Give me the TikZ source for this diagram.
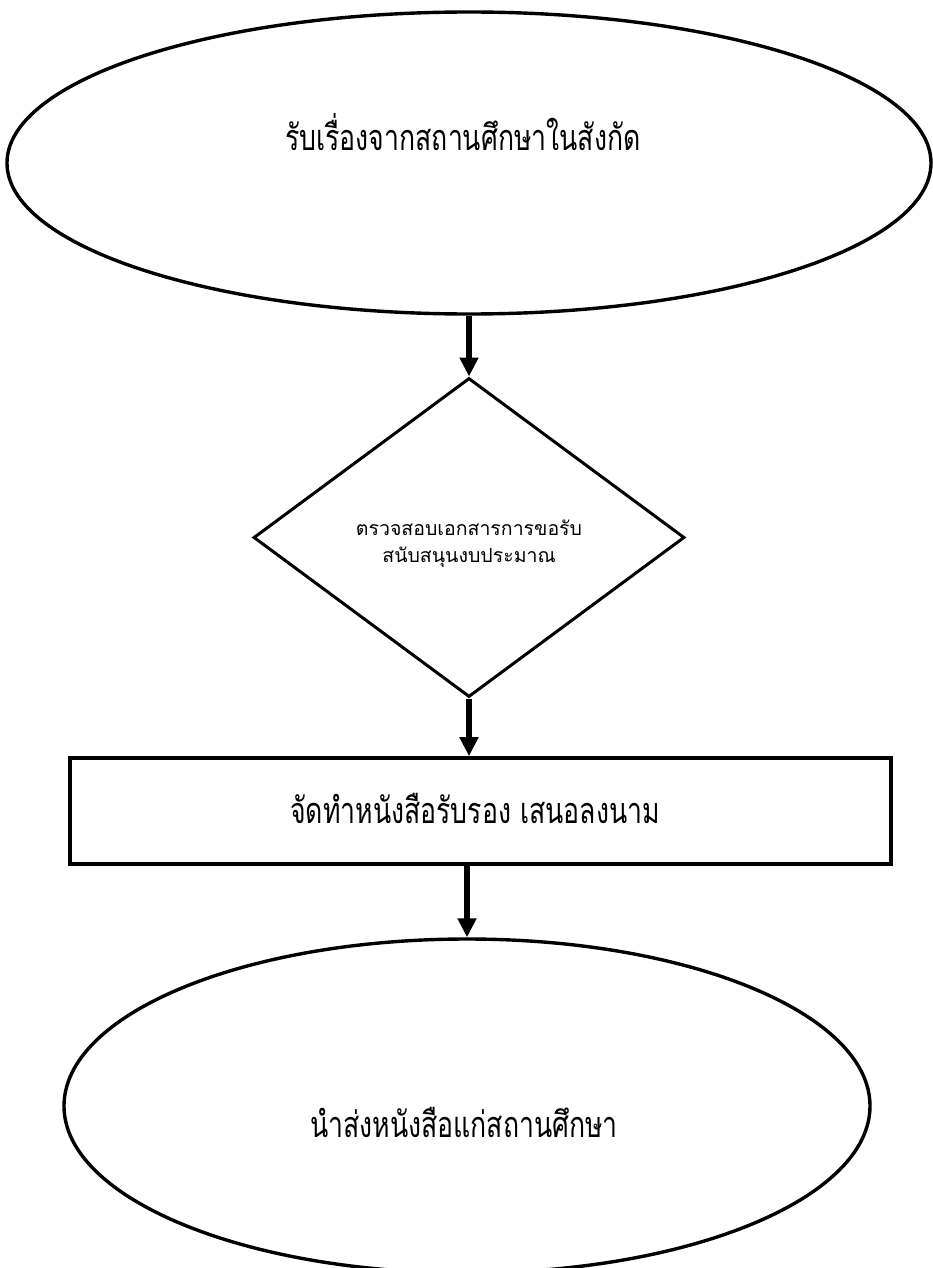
\documentclass[tikz,border=0pt]{standalone}
\usepackage{fontspec}
\usetikzlibrary{shapes.geometric,arrows.meta}
\newfontfamily\thainarrow[Script=Thai,FakeStretch=0.74]{Loma}
\newfontfamily\thaifont[Script=Thai]{Loma}
\tikzset{
  shapeline/.style={draw=black,line width=3.4pt,inner sep=0pt},
  flowarrow/.style={line width=5.5pt,-{Triangle[length=19pt,width=18pt]}},
  bigtext/.style={font=\thainarrow\fontsize{36}{40}\selectfont,inner sep=0pt},
  smalltext/.style={font=\thaifont\fontsize{19.5}{27}\selectfont,inner sep=0pt,align=center}
}
\begin{document}
\begin{tikzpicture}[x=1pt,y=-1pt]
\useasboundingbox (0,0) rectangle (932,1268);
\fill[white] (0,0) rectangle (932,1268);
\node[shapeline,ellipse,minimum width=924pt,minimum height=302pt] (e1) at (469,163) {};
\node[bigtext] (t1) at (463,132) {รับเรื่องจากสถานศึกษาในสังกัด};
\node[shapeline,diamond,line width=3pt,minimum width=431pt,minimum height=319pt] (d) at (469,537.5) {};
\node[smalltext] (t2) at (469,544) {ตรวจสอบเอกสารการขอรับ\\สนับสนุนงบประมาณ};
\node[shapeline,rectangle,line width=3.6pt,minimum width=821pt,minimum height=106pt] (r) at (480.5,811) {};
\node[bigtext] (t3) at (475,808) {จัดทำหนังสือรับรอง เสนอลงนาม};
\node[shapeline,ellipse,minimum width=806pt,minimum height=334pt] (e2) at (467,1106) {};
\node[bigtext] (t4) at (464,1122) {นำส่งหนังสือแก่สถานศึกษา};
\draw[flowarrow] (e1.south) -- (d.north);
\draw[flowarrow] (d.south) -- (d.south |- r.north);
\draw[flowarrow] (e2.north |- r.south) -- (e2.north);
\end{tikzpicture}
\end{document}
